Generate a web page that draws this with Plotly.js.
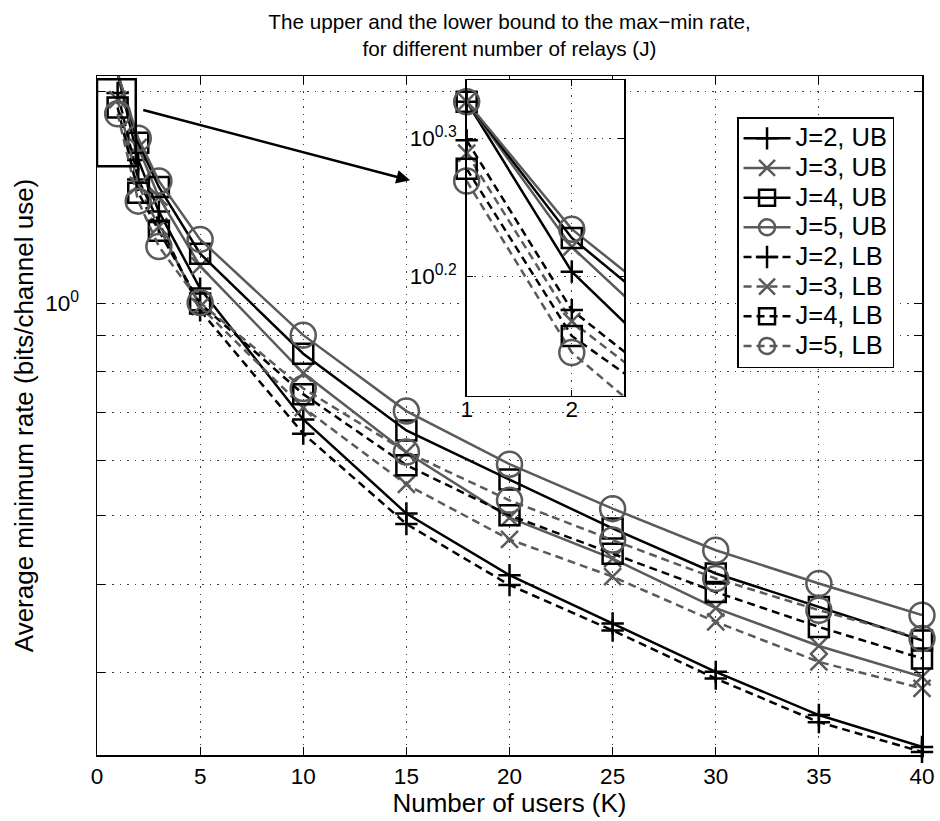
<!DOCTYPE html>
<html><head><meta charset="utf-8">
<script src="https://cdn.plot.ly/plotly-3.0.1.min.js"></script>
<style>body{margin:0;background:#fff}#chart{width:940px;height:821px}</style>
</head><body><div id="chart"></div>
<script>
// ---- data ----
const users = [1, 2, 3, 5, 10, 15, 20, 25, 30, 35, 40];
const ubJ2 = [2.12, 1.598, 1.35, 1.05, 0.685, 0.504, 0.412, 0.352, 0.3005, 0.261, 0.2352];
const ubJ3 = [2.12, 1.665, 1.415, 1.13, 0.797, 0.615, 0.497, 0.435, 0.370, 0.327, 0.2957];
const ubJ4 = [2.12, 1.690, 1.463, 1.177, 0.849, 0.661, 0.563, 0.480, 0.4143, 0.3715, 0.333];
const ubJ5 = [2.12, 1.715, 1.492, 1.233, 0.902, 0.704, 0.592, 0.512, 0.447, 0.401, 0.3616];
const lbJ2 = [1.988, 1.499, 1.305, 0.978, 0.654, 0.487, 0.399, 0.344, 0.294, 0.255, 0.2314];
const lbJ3 = [1.946, 1.471, 1.285, 0.99, 0.712, 0.554, 0.463, 0.410, 0.3538, 0.3105, 0.2847];
const lbJ4 = [1.896, 1.436, 1.268, 1.00, 0.744, 0.590, 0.501, 0.442, 0.390, 0.348, 0.314];
const lbJ5 = [1.858, 1.397, 1.205, 1.003, 0.758, 0.616, 0.526, 0.462, 0.4076, 0.3675, 0.335];
const seriesNames = ['J=2, UB', 'J=3, UB', 'J=4, UB', 'J=5, UB', 'J=2, LB', 'J=3, LB', 'J=4, LB', 'J=5, LB'];
const seriesValues = [ubJ2, ubJ3, ubJ4, ubJ5, lbJ2, lbJ3, lbJ4, lbJ5];

const xTickVals = [0, 5, 10, 15, 20, 25, 30, 35, 40];
const yTickVals = [0.3, 0.4, 0.5, 0.6, 0.7, 0.8, 0.9, 1, 2];
const yTickText = ['', '', '', '', '', '', '', '10<sup>0</sup>', ''];
const insetXTicks = [1, 2];
const insetYTickVals = [Math.pow(10, 0.2), Math.pow(10, 0.3)];
const insetYTickText = ['10<sup>0.2</sup>', '10<sup>0.3</sup>'];
const zoomBoxX = [0, 1.88];
const zoomBoxY = [1.565, 2.08];

// ---- styles ----
const BLACK = '#000000', GRAY = '#5a5a5a';
const FONT = 'Liberation Sans, Arial, Helvetica, sans-serif';
const styles = [
  {color: BLACK, dash: 'solid', symbol: 'cross-thin-open', size: 16},
  {color: GRAY, dash: 'solid', symbol: 'x-thin-open', size: 17},
  {color: BLACK, dash: 'solid', symbol: 'square-open', size: 20},
  {color: GRAY, dash: 'solid', symbol: 'circle-open', size: 25},
  {color: BLACK, dash: '8px,5px', symbol: 'cross-thin-open', size: 16},
  {color: GRAY, dash: '8px,5px', symbol: 'x-thin-open', size: 17},
  {color: BLACK, dash: '8px,5px', symbol: 'square-open', size: 20},
  {color: GRAY, dash: '8px,5px', symbol: 'circle-open', size: 25}
];
const LW = 2.5;
const insetXRange = [1, 2.5];

const traces = [];
// main traces
seriesValues.forEach((vals, i) => {
  const s = styles[i];
  traces.push({
    x: users, y: vals, type: 'scatter', mode: 'lines+markers',
    name: '<span style="font-size:25.5px">' + seriesNames[i] + '</span>',
    xaxis: 'x', yaxis: 'y', cliponaxis: false,
    line: {color: s.color, width: LW, dash: s.dash},
    marker: {symbol: s.symbol, size: s.size, color: s.color, line: {width: LW, color: s.color}}
  });
});
// zoom box on main plot
traces.push({
  x: [zoomBoxX[0], zoomBoxX[1], zoomBoxX[1], zoomBoxX[0], zoomBoxX[0]],
  y: [zoomBoxY[0], zoomBoxY[0], zoomBoxY[1], zoomBoxY[1], zoomBoxY[0]],
  type: 'scatter', mode: 'lines', showlegend: false, hoverinfo: 'skip',
  xaxis: 'x', yaxis: 'y', line: {color: BLACK, width: LW}
});
// inset traces: lines (clipped) and markers within the inset range
seriesValues.forEach((vals, i) => {
  const s = styles[i];
  traces.push({
    x: users, y: vals, type: 'scatter', mode: 'lines', showlegend: false,
    xaxis: 'x2', yaxis: 'y2',
    line: {color: s.color, width: LW, dash: s.dash}
  });
});
seriesValues.forEach((vals, i) => {
  const s = styles[i];
  const xs = [], ys = [];
  users.forEach((u, k) => { if (u >= insetXRange[0] && u <= insetXRange[1]) { xs.push(u); ys.push(vals[k]); } });
  traces.push({
    x: xs, y: ys, type: 'scatter', mode: 'markers', showlegend: false, cliponaxis: false,
    xaxis: 'x2', yaxis: 'y2',
    marker: {symbol: s.symbol, size: s.size, color: s.color, line: {width: LW, color: s.color}}
  });
});

const gridStyle = {showgrid: true, gridcolor: '#3a3a3a', gridwidth: 1, griddash: '1.5px,6px'};
const axisCommon = Object.assign({
  showline: true, linecolor: BLACK, linewidth: 1.5, mirror: 'ticks',
  ticks: 'inside', ticklen: 8, tickwidth: 1, tickcolor: BLACK,
  zeroline: false, tickfont: {family: FONT, size: 22.5, color: BLACK}
}, gridStyle);

const layout = {
  width: 940, height: 821,
  margin: {l: 97, r: 18, t: 76, b: 66},
  paper_bgcolor: '#ffffff', plot_bgcolor: '#ffffff',
  font: {family: FONT, size: 22, color: BLACK},
  showlegend: true,
  title: {
    text: 'The upper and the lower bound to the max\u2212min rate,<br>for different number of relays (J)',
    font: {family: FONT, size: 20.7, color: BLACK},
    x: 0.5, xref: 'paper', xanchor: 'center',
    y: 1 - 29 / 821, yref: 'container', yanchor: 'middle'
  },
  xaxis: Object.assign({}, axisCommon, {
    domain: [0, 1], range: [0, 40], tickvals: xTickVals, anchor: 'y',
    ticklabelstandoff: 0,
    title: {text: 'Number of users (K)', font: {family: FONT, size: 26, color: BLACK}, standoff: 2}
  }),
  yaxis: Object.assign({}, axisCommon, {
    domain: [0, 1], type: 'log', range: [-0.640, 0.3226],
    tickvals: yTickVals, ticktext: yTickText, anchor: 'x',
    ticklabelstandoff: 12,
    title: {text: 'Average minimum rate (bits/channel use)', font: {family: FONT, size: 26, color: BLACK}, standoff: 4}
  }),
  xaxis2: Object.assign({}, axisCommon, {
    domain: [0.4481, 0.6392], range: insetXRange, tickvals: insetXTicks, anchor: 'y2',
    ticklen: 6, linewidth: 1.5, ticklabelstandoff: -7
  }),
  yaxis2: Object.assign({}, axisCommon, {
    domain: [0.5292, 0.9941], type: 'log', range: [0.114, 0.342],
    tickvals: insetYTickVals, ticktext: insetYTickText, anchor: 'x2',
    ticklen: 6, linewidth: 1.5, ticklabelstandoff: 4
  }),
  legend: {
    x: 0.7758, y: 0.9396, xanchor: 'left', yanchor: 'top',
    bgcolor: '#ffffff', bordercolor: BLACK, borderwidth: 1.5,
    font: {family: FONT, size: 20.5, color: BLACK},
    itemwidth: 47, tracegroupgap: 0
  },
  annotations: [{
    xref: 'x', yref: 'y', axref: 'x', ayref: 'y',
    x: 15.18, y: 0.1747, ax: 2.17, ay: 0.2749,
    text: '', showarrow: true, arrowhead: 2, arrowsize: 1.1, arrowwidth: 2.5,
    arrowcolor: BLACK, standoff: 0, startstandoff: 0
  }]
};

Plotly.newPlot('chart', traces, layout, {staticPlot: true, displayModeBar: false});
</script>
</body></html>
